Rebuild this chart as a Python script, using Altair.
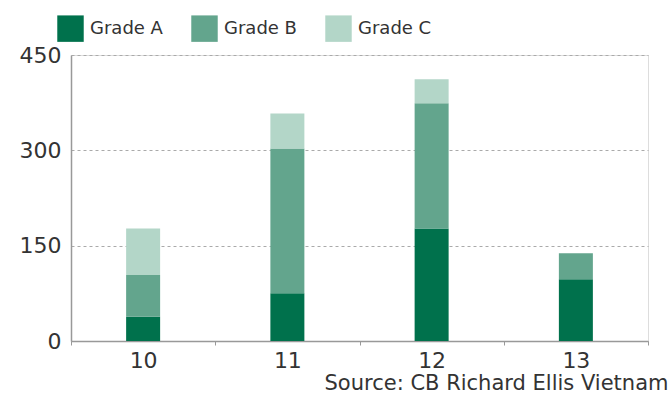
import altair as alt
import pandas as pd

years = ["10", "11", "12", "13"]
grade_a = [38, 75, 177, 97]
grade_b = [66, 228, 197, 41]
grade_c = [73, 55, 38, 0]
grades = ["Grade A", "Grade B", "Grade C"]
colors = ["#00714C", "#63A58D", "#B3D6C8"]

rows = []
for i, y in enumerate(years):
    for k, (g, vals) in enumerate(zip(grades, [grade_a, grade_b, grade_c])):
        rows.append({"year": y, "grade": g, "value": vals[i], "order": k})
df = pd.DataFrame(rows)

font = "DejaVu Sans"

chart = alt.Chart(df).mark_bar(size=34).encode(
    x=alt.X("year:N", sort=years,
            scale=alt.Scale(paddingInner=0, paddingOuter=0),
            axis=alt.Axis(title="Source: CB Richard Ellis Vietnam", labelAngle=0,
                          labelFontSize=22, labelColor="#333", labelFont=font,
                          labelPadding=5,
                          domainColor="#999", domainWidth=1.5,
                          ticks=True, tickBand="extent", tickSize=4, tickColor="#999",
                          titleFont=font, titleFontSize=21, titleFontWeight="normal",
                          titleColor="#333", titleAlign="right", titleAnchor="end",
                          titleX=597, titleY=48, titleBaseline="alphabetic")),
    y=alt.Y("value:Q", stack="zero",
            scale=alt.Scale(domain=[0, 450], nice=False),
            axis=alt.Axis(title=None, values=[0, 150, 300, 450], ticks=False,
                          labelFontSize=22, labelColor="#333", labelFont=font,
                          labelPadding=10,
                          domainColor="#999", domainWidth=1.5,
                          grid=True, gridDash=[3, 3], gridColor="#aaa", gridWidth=1)),
    color=alt.Color("grade:N", sort=grades,
                    scale=alt.Scale(domain=grades, range=colors),
                    legend=alt.Legend(title=None, orient="none", direction="horizontal",
                                      legendX=-14, legendY=-40,
                                      symbolType="square", symbolSize=700,
                                      symbolStrokeWidth=0, symbolOpacity=1,
                                      labelFont=font, labelFontSize=18,
                                      labelColor="#333", labelOffset=6,
                                      columnPadding=28)),
    order=alt.Order("order:Q", sort="ascending"),
).properties(
    width=577, height=286,
    autosize=alt.AutoSizeParams(type="none"),
    padding={"left": 71, "top": 55, "right": 22, "bottom": 62},
).configure_view(stroke=None).configure(background="white")

chart.save("out.html", embed_options={"renderer": "svg", "actions": False})
